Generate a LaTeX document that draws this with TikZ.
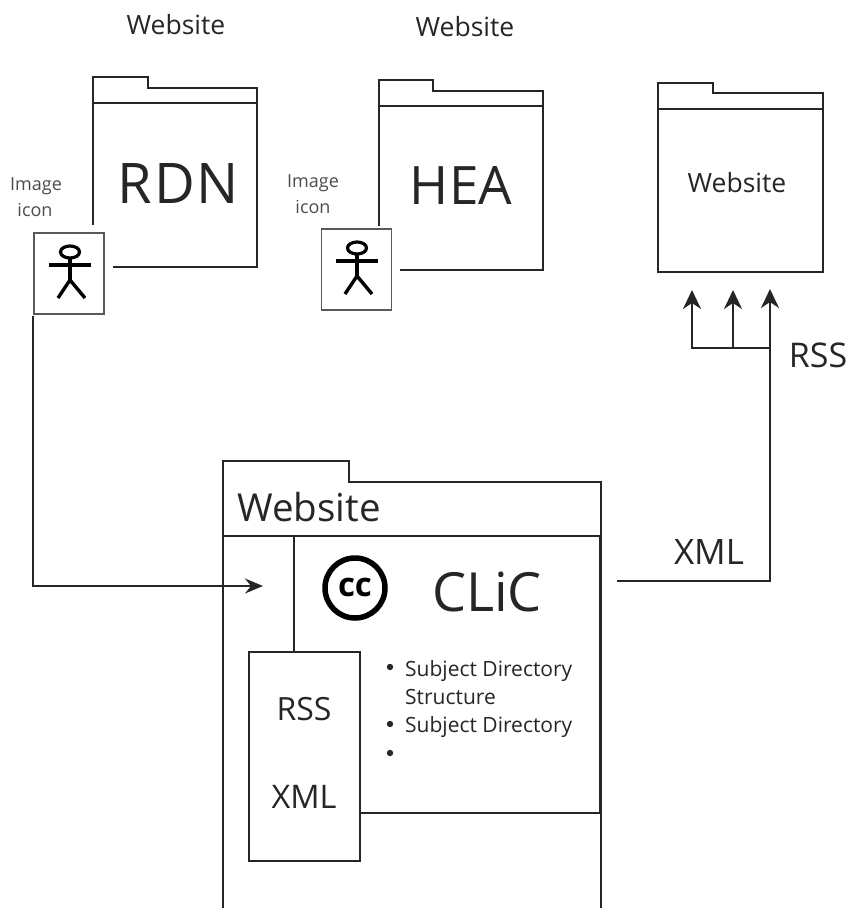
\documentclass[tikz,border=0pt]{standalone}
\usepackage{fontspec}
\setmainfont{Open Sans}
\usetikzlibrary{arrows.meta}
\newcommand{\fs}[1]{\fontsize{#1}{#1}\selectfont}
\tikzset{
 x=1pt,y=-1pt,
 ln/.style={line width=2.8pt,draw=black!85,line join=miter},
 iconbox/.style={draw=black!65,line width=1.5pt,fill=white,minimum width=70pt,minimum height=81pt,inner sep=0pt},
 rssbox/.style={draw=black!85,line width=2.8pt,fill=white,minimum width=111pt,minimum height=209pt,inner sep=0pt},
 lbl/.style={inner sep=0pt,text=black!85,align=center},
 arr/.style={line width=2.6pt,draw=black!85,-{Stealth[length=19pt,width=18pt,inset=6pt]}},
 arrleft/.style={line width=2.4pt,draw=black!85,-{Stealth[length=18pt,width=15pt,inset=6pt]}},
}
\newcommand{\stick}[2]{%
 \begin{scope}[shift={(#1,#2)}]
 \draw[black,line width=3.2pt] (0,-13) ellipse (9.5pt and 6pt);
 \draw[black,line width=3.2pt] (0,-7) -- (0,15);
 \draw[black,line width=3.6pt] (-21,0) -- (21,0);
 \draw[black,line width=3.4pt,line join=miter] (-12,33) -- (0,15) -- (15,33);
 \end{scope}}
\begin{document}
\begin{tikzpicture}
\useasboundingbox (0,0) rectangle (849,908);
% RDN folder
\draw[ln] (93,225) -- (93,77) -- (148,77) -- (148,88) -- (257,88) -- (257,267) -- (113,267);
\draw[ln] (93,103) -- (257,103);
\node[lbl,font=\fs{56}] (rdn) at (178,184) {R\kern2pt D\kern1pt N};
\node[lbl,font=\fs{26.5}] (w1) at (176,25) {Website};
\node[lbl,font=\fs{18},text=black!70] (img1a) at (36,186) {Image};
\node[lbl,font=\fs{18},text=black!70] (img1b) at (35,210) {icon};
\node[iconbox] (icon1) at (69,273.5) {};
\stick{70}{265}
% HEA folder
\draw[ln] (379,226) -- (379,80) -- (433,80) -- (433,91) -- (543,91) -- (543,270) -- (400,270);
\draw[ln] (379,106) -- (543,106);
\node[lbl,font=\fs{53}] (hea) at (461,186) {HEA};
\node[lbl,font=\fs{26.5}] (w2) at (465,27) {Website};
\node[lbl,font=\fs{18},text=black!70] (img2a) at (313,183) {Image};
\node[lbl,font=\fs{18},text=black!70] (img2b) at (313,207) {icon};
\node[iconbox] (icon2) at (356.5,269.5) {};
\stick{357}{261}
% right folder
\draw[ln] (658,272) -- (658,83) -- (713,83) -- (713,93) -- (823,93) -- (823,272) -- cycle;
\draw[ln] (658,109) -- (823,109);
\node[lbl,font=\fs{26.5}] (w3) at (737,183) {Website};
% CLiC folder
\draw[ln] (223,908) -- (223,461) -- (349,461) -- (349,482) -- (601,482) -- (601,908);
\draw[ln] (223,536) -- (601,536);
\draw[line width=3.4pt,draw=black!85] (600.5,536) -- (600.5,813);
\node[lbl,font=\fs{38.5}] (w4) at (309,507) {Website};
\node[lbl,font=\fs{54}] (clic) at (487,592) {CLiC};
\node[circle,draw=black,line width=5.5pt,minimum size=60pt,inner sep=0pt,font=\fs{33}\bfseries] (cc) at (355,588) {\raisebox{2pt}{cc}};
\draw[ln] (294,536) -- (294,652);
\draw[ln] (360,813) -- (601,813);
\node[rssbox] (rssb) at (304.5,756.5) {};
\node[lbl,font=\fs{32}] (rss1) at (304,709) {RSS};
\node[lbl,font=\fs{32.5}] (xml1) at (304,797) {XML};
\node[lbl,font=\fs{21},anchor=base west] (s1) at (405,676) {Subject Directory};
\node[lbl,font=\fs{21},anchor=base west] (s2) at (405,704) {Structure};
\node[lbl,font=\fs{21},anchor=base west] (s3) at (405,732) {Subject Directory};
\foreach \yy in {667,724,753} \fill[black!85] (390,\yy) circle (3.2pt);
% connectors
\coordinate (a0) at (33,316);
\coordinate (a1) at (263,586);
\draw[arrleft] (a0) |- (a1);
\coordinate (b0) at (617,581);
\coordinate (b1) at (770,289);
\coordinate (c1) at (692,290);
\coordinate (d1) at (733,290);
\coordinate (j) at (770,348);
\coordinate (k) at (733,348);
\draw[ln] (b0) -| (j);
\draw[arr] (j) -- (b1);
\draw[arr] (j) -| (c1);
\draw[arr] (k) -- (d1);
\node[lbl,font=\fs{34}] (rss2) at (818,355) {RSS};
\node[lbl,font=\fs{35}] (xml2) at (709,552) {XML};
\end{tikzpicture}
\end{document}
